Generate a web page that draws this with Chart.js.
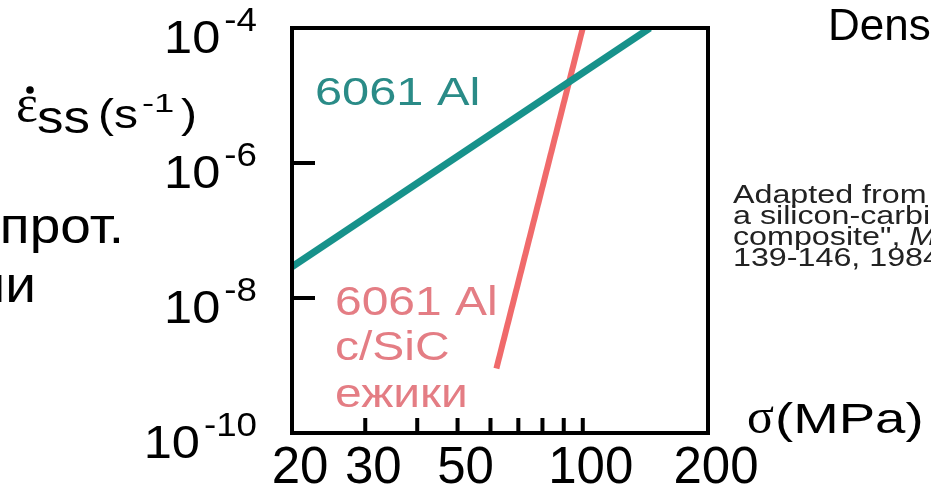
<!DOCTYPE html>
<html>
<head>
<meta charset="utf-8">
<title>Creep rate vs stress</title>
<script src="https://cdn.jsdelivr.net/npm/chart.js@4.4.1/dist/chart.umd.min.js"></script>
<style>
  html, body { margin: 0; padding: 0; background: #fff; }
  #wrap { width: 931px; height: 488px; overflow: hidden; }
</style>
</head>
<body>
<div id="wrap"><canvas id="creep" width="931" height="488"></canvas></div>
<script>
// stress (MPa) vs steady-state creep rate (1/s)
const alStress = [20, 145];
const alRate = [2.9e-8, 1e-4];
const sicStress = [62, 100];
const sicRate = [9e-10, 1e-4];

const xRange = [20, 200];
const yRange = [1e-10, 1e-4];
const xTickLabels = [20, 30, 50, 100, 200];
const xMinorTicks = [30, 40, 50, 60, 70, 80, 90, 100];
const yTickExps = [-4, -6, -8, -10];
const yInnerTicks = [1e-6, 1e-8];

const SANS = '"Liberation Sans", Arial, sans-serif';
const SERIF = '"Liberation Serif", "Times New Roman", serif';
const TEAL = '#17928b';
const TEAL_TXT = '#2a8b87';
const RED = '#f06a6b';
const RED_TXT = '#e47d84';

const pts = (xs, ys) => xs.map((x, i) => ({ x, y: ys[i] }));

// text with a horizontal stretch (the slide is squeezed), returns its span
function txt(ctx, s, x, y, size, color, opts = {}) {
  const sx = opts.sx || 1;
  ctx.save();
  ctx.font = (opts.style || '') + ' ' + size + 'px ' + (opts.family || SANS);
  ctx.fillStyle = color;
  ctx.textBaseline = 'alphabetic';
  ctx.textAlign = 'left';
  const w = ctx.measureText(s).width * sx;
  let x0 = x;
  if (opts.align === 'right') x0 = x - w;
  if (opts.align === 'center') x0 = x - w / 2;
  ctx.translate(x0, y);
  ctx.scale(sx, 1);
  ctx.fillText(s, 0, 0);
  ctx.restore();
  return { x0, x1: x0 + w };
}

const frame = {
  id: 'frame',
  afterDraw(chart) {
    const { ctx, chartArea: a } = chart;
    const xs = chart.scales.x, ys = chart.scales.y;

    // box + inward ticks
    ctx.save();
    ctx.strokeStyle = '#000';
    ctx.lineWidth = 4;
    ctx.strokeRect(a.left, a.top, a.right - a.left, a.bottom - a.top);
    ctx.beginPath();
    yInnerTicks.forEach(v => {
      const py = ys.getPixelForValue(v);
      ctx.moveTo(a.left, py); ctx.lineTo(a.left + 23, py);
    });
    xMinorTicks.forEach(v => {
      const px = xs.getPixelForValue(v);
      ctx.moveTo(px, a.bottom); ctx.lineTo(px, a.bottom - 15);
    });
    ctx.stroke();
    ctx.restore();

    // y tick labels 10^n
    yTickExps.forEach(e => {
      const py = ys.getPixelForValue(Math.pow(10, e)) + 25;
      const sup = txt(ctx, String(e), a.left - 35, py - 22, 34, '#000', { align: 'right', sx: 1.08 });
      txt(ctx, '10', sup.x0 - 4, py, 46, '#000', { align: 'right', sx: 1.1 });
    });

    // x tick labels
    xTickLabels.forEach(v => {
      txt(ctx, String(v), xs.getPixelForValue(v) + 8, 483, 51, '#000', { align: 'center' });
    });

    // axis titles
    ctx.save();
    ctx.fillStyle = '#000';
    ctx.beginPath();
    ctx.arc(30, 90, 3.8, 0, Math.PI * 2);
    ctx.fill();
    ctx.restore();
    txt(ctx, 'ε', 16, 121, 52, '#000', { family: SERIF });
    txt(ctx, 'ss', 37, 133, 46, '#000', { sx: 1.15 });
    txt(ctx, '(s', 98, 128, 40, '#000', { sx: 1.2 });
    txt(ctx, '-1', 142, 112, 26, '#000', { sx: 1.4 });
    txt(ctx, ')', 181, 128, 40, '#000', { sx: 1.2 });

    txt(ctx, 'прот.', 124, 243, 50, '#000', { align: 'right', sx: 1.1 });
    txt(ctx, 'ии', 36, 302, 50, '#000', { align: 'right', sx: 1.1 });

    const sig = txt(ctx, 'σ', 747, 433, 50, '#000', { family: SERIF });
    txt(ctx, '(MPa)', Math.max(sig.x1, 775), 433, 42, '#000', { sx: 1.3 });

    txt(ctx, 'Dens', 828, 40, 44, '#000');

    const note = { x: 733, size: 26, sx: 1.24, color: '#222' };
    txt(ctx, 'Adapted from', note.x, 203, note.size, note.color, { sx: note.sx });
    txt(ctx, 'a silicon-carbide', note.x, 224, note.size, note.color, { sx: note.sx });
    const c = txt(ctx, 'composite", ', note.x, 245, note.size, note.color, { sx: note.sx });
    txt(ctx, 'Metall.', c.x1, 245, note.size, note.color, { sx: note.sx, style: 'italic' });
    txt(ctx, '139-146, 1984.', note.x, 266, note.size, note.color, { sx: note.sx });

    // series labels
    txt(ctx, '6061 Al', 315, 105, 39, TEAL_TXT, { sx: 1.25 });
    txt(ctx, '6061 Al', 335, 315, 41, RED_TXT, { sx: 1.17 });
    txt(ctx, 'c/SiC', 335, 360, 41, RED_TXT, { sx: 1.17 });
    txt(ctx, 'ежики', 335, 407, 41, RED_TXT, { sx: 1.17 });
  }
};

new Chart(document.getElementById('creep'), {
  type: 'scatter',
  data: {
    datasets: [
      { label: '6061 Al', data: pts(alStress, alRate), showLine: true,
        borderColor: TEAL, borderWidth: 7, pointRadius: 0 },
      { label: '6061 Al c/SiC', data: pts(sicStress, sicRate), showLine: true,
        borderColor: RED, borderWidth: 6, pointRadius: 0 }
    ]
  },
  options: {
    responsive: false,
    animation: false,
    devicePixelRatio: 1,
    layout: { padding: { left: 292, top: 28, right: 223, bottom: 55 } },
    scales: {
      x: { type: 'logarithmic', min: xRange[0], max: xRange[1], display: false },
      y: { type: 'logarithmic', min: yRange[0], max: yRange[1], display: false }
    },
    plugins: { legend: { display: false }, tooltip: { enabled: false } }
  },
  plugins: [frame]
});
</script>
</body>
</html>
